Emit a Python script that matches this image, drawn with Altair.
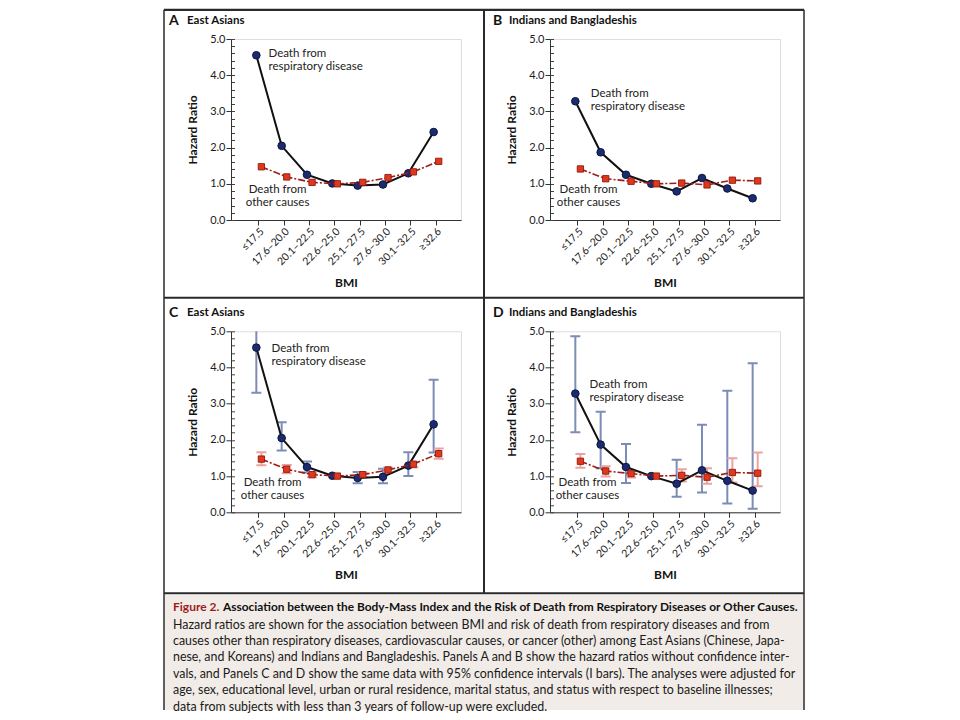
import altair as alt
import pandas as pd

# ---------------- data ----------------
bmi_labels = ["≤17.5", "17.6–20.0", "20.1–22.5", "22.6–25.0",
              "25.1–27.5", "27.6–30.0", "30.1–32.5", "≥32.6"]

# East Asians
ea_resp = [4.55, 2.05, 1.25, 1.01, 0.95, 0.98, 1.29, 2.43]
ea_other = [1.47, 1.19, 1.04, 1.00, 1.04, 1.17, 1.33, 1.62]
ea_resp_lo = [3.30, 1.71, 1.10, None, 0.80, 0.80, 1.00, 1.65]
ea_resp_hi = [5.80, 2.49, 1.40, None, 1.11, 1.20, 1.66, 3.66]
ea_other_lo = [1.30, 1.08, 0.97, None, 0.97, 1.10, 1.24, 1.48]
ea_other_hi = [1.66, 1.31, 1.08, None, 1.09, 1.23, 1.38, 1.76]

# Indians and Bangladeshis
ib_resp = [3.28, 1.87, 1.25, 1.00, 0.79, 1.16, 0.87, 0.60]
ib_other = [1.41, 1.14, 1.07, 1.00, 1.02, 0.97, 1.10, 1.08]
ib_resp_lo = [2.21, 1.22, 0.81, None, 0.43, 0.55, 0.24, 0.10]
ib_resp_hi = [4.86, 2.78, 1.89, None, 1.45, 2.42, 3.36, 4.12]
ib_other_lo = [1.23, 0.99, 0.96, None, 0.85, 0.79, 0.82, 0.72]
ib_other_hi = [1.61, 1.27, 1.12, None, 1.19, 1.22, 1.49, 1.65]

resp_label = "Death from\nrespiratory disease"
other_label = "Death from\nother causes"

caption_head = "Figure 2."
caption_title = ("Association between the Body-Mass Index and the Risk of Death "
                 "from Respiratory Diseases or Other Causes.")
caption_lines = [
    "Hazard ratios are shown for the association between BMI and risk of death from respiratory diseases and from",
    "causes other than respiratory diseases, cardiovascular causes, or cancer (other) among East Asians (Chinese, Japa-",
    "nese, and Koreans) and Indians and Bangladeshis. Panels A and B show the hazard ratios without confidence inter-",
    "vals, and Panels C and D show the same data with 95% confidence intervals (I bars). The analyses were adjusted for",
    "age, sex, educational level, urban or rural residence, marital status, and status with respect to baseline illnesses;",
    "data from subjects with less than 3 years of follow-up were excluded.",
]

# ---------------- styles ----------------
FONT = "Lato"
W, H = 230, 181
BLUE_OFF, RED_OFF = -0.08, 0.12
NAVY = "#1c2a6e"
LINE_DARK = "#111111"
RED = "#e0381c"
RED_DARK = "#9e1d17"
CI_BLUE = "#7b8db7"
CI_RED = "#eba3a0"
FRAME = "#2a2a2a"
CAPTION_BG = "#f1ece7"

label_expr = "[" + ",".join("'" + l + "'" for l in bmi_labels) + "][datum.value]"

X = alt.X(
    "xpos:Q",
    scale=alt.Scale(domain=[-1.08, 8.0], nice=False, zero=False),
    axis=alt.Axis(values=list(range(8)), labelExpr=label_expr, labelAngle=-45,
                  title="BMI", grid=False, tickSize=5, tickColor="#333",
                  domainColor="#333", labelFontSize=10.5, labelPadding=1,
                  labelColor="#1a1a1a", labelFont=FONT, titleFont=FONT,
                  titleFontSize=12, titleFontWeight="bold", titleColor="#111",
                  titlePadding=10, labelOverlap=False, labelBound=False),
)
YSCALE = alt.Scale(domain=[0, 5], nice=False, zero=True)


def y_none(field):
    return alt.Y(field + ":Q", scale=YSCALE, axis=None)


def y_main(field):
    return alt.Y(field + ":Q", scale=YSCALE,
                 axis=alt.Axis(values=[0, 1, 2, 3, 4, 5], format=".1f", grid=False,
                               tickSize=5, tickColor="#333", domainColor="#333",
                               labelFontSize=11, labelFont=FONT, labelColor="#1a1a1a",
                               labelPadding=1, title="Hazard Ratio", titleFont=FONT,
                               titleFontSize=12, titleFontWeight="bold",
                               titleColor="#111", titlePadding=10))


def y_minor(field):
    return alt.Y(field + ":Q", scale=YSCALE,
                 axis=alt.Axis(orient="right", offset=-W,
                               values=[i / 5 for i in range(26)], labels=False,
                               domain=False, grid=False, tickSize=3.5,
                               tickColor="#444", title=None))


ONE = pd.DataFrame({"a": [0]})


def vtext(txt, x, y, size, weight="normal", color="#111", align="left",
          baseline="middle", line_height=None):
    kw = dict(align=align, baseline=baseline, font=FONT, fontSize=size,
              fontWeight=weight, color=color)
    if line_height is not None:
        kw["lineBreak"] = "\n"
        kw["lineHeight"] = line_height
    return alt.Chart(ONE).mark_text(**kw).encode(
        x=alt.value(x), y=alt.value(y), text=alt.value(txt))


def vrule(x, x2, y, y2, width, color=FRAME):
    return alt.Chart(ONE).mark_rule(color=color, strokeWidth=width).encode(
        x=alt.value(x), x2=alt.value(x2), y=alt.value(y), y2=alt.value(y2))


def panel(letter, name, resp, other, ci, ann, letter_x, name_x, title_y, decor=False):
    layers = []
    if decor:
        layers.append(alt.Chart(ONE).mark_rect(color=CAPTION_BG).encode(
            x=alt.value(-66), x2=alt.value(572), y=alt.value(556), y2=alt.value(671)))
        layers += [
            vrule(-67, 573, -29.2, -29.2, 2.2),      # top frame
            vrule(-67, -67, -29.2, 671, 1.5),        # left frame
            vrule(573, 573, -29.2, 671, 1.5),        # right frame
            vrule(253, 253, -29.2, 554.3, 2),        # middle vertical divider
            vrule(-67, 573, 258.8, 258.8, 2),        # row divider
            vrule(-67, 573, 554.3, 554.3, 2),        # caption divider
        ]
        layers.append(vtext(caption_head, -58, 571.8, 12, "bold", "#9b1c1f",
                            baseline="alphabetic"))
        layers.append(vtext(caption_title, -8, 571.8, 11.9, "bold", "#111",
                            baseline="alphabetic"))
        layers.append(vtext("\n".join(caption_lines), -58, 589.5, 12.4, "normal",
                            "#1a1a1a", baseline="alphabetic", line_height=16.4))

    if ci is not None:
        r_lo, r_hi, o_lo, o_hi = ci
        for lo, hi, off, col in [(r_lo, r_hi, BLUE_OFF, CI_BLUE),
                                 (o_lo, o_hi, RED_OFF, CI_RED)]:
            d = pd.DataFrame({"idx": list(range(8)), "lo": lo, "hi": hi}).dropna()
            base = alt.Chart(d).transform_calculate(xpos="datum.idx + " + str(off))
            layers.append(base.mark_rule(color=col, strokeWidth=2, clip=True)
                          .encode(x=X, y=y_none("lo"), y2="hi:Q"))
            for f in ("lo", "hi"):
                layers.append(base.mark_tick(orient="horizontal", size=10,
                                             thickness=2, color=col, clip=True,
                                             opacity=1)
                              .encode(x=X, y=y_none(f)))

    rd = pd.DataFrame({"idx": list(range(8)), "hr": resp})
    od = pd.DataFrame({"idx": list(range(8)), "hr": other})
    rb = alt.Chart(rd).transform_calculate(xpos="datum.idx + " + str(BLUE_OFF))
    ob = alt.Chart(od).transform_calculate(xpos="datum.idx + " + str(RED_OFF))
    layers += [
        rb.mark_line(color=LINE_DARK, strokeWidth=2).encode(x=X, y=y_minor("hr")),
        rb.mark_point(shape="circle", filled=True, size=58, fill=NAVY,
                      stroke="#0c1540", strokeWidth=1, opacity=1)
          .encode(x=X, y=y_main("hr")),
        ob.mark_line(color=RED_DARK, strokeWidth=1.6, strokeDash=[7, 2, 2, 2])
          .encode(x=X, y=y_none("hr")),
        ob.mark_square(size=40, fill=RED, stroke="#8e1a10", strokeWidth=0.9,
                       opacity=1)
          .encode(x=X, y=y_none("hr")),
    ]

    (rx, ry), (ox, oy) = ann
    ta = pd.DataFrame({"xpos": [rx], "hr": [ry], "t": [resp_label]})
    tb = pd.DataFrame({"xpos": [ox], "hr": [oy], "t": [other_label]})
    layers.append(alt.Chart(ta).mark_text(align="left", baseline="middle",
                                          lineBreak="\n", lineHeight=13,
                                          font=FONT, fontSize=11.5, color="#222")
                  .encode(x=X, y=y_none("hr"), text="t:N"))
    layers.append(alt.Chart(tb).mark_text(align="center", baseline="middle",
                                          lineBreak="\n", lineHeight=13,
                                          font=FONT, fontSize=11.5, color="#222")
                  .encode(x=X, y=y_none("hr"), text="t:N"))

    layers.append(vtext(letter, letter_x, title_y, 14, "bold", "#111"))
    layers.append(vtext(name, name_x, title_y, 11.5, "bold", "#111"))

    return alt.layer(*layers).resolve_axis(y="independent").properties(width=W, height=H)


pA = panel("A", "East Asians", ea_resp, ea_other, None,
           ((0.40, 4.59), (0.76, 0.83)), -62, -44, -17.7, decor=True)
pB = panel("B", "Indians and Bangladeshis", ib_resp, ib_other, None,
           ((0.53, 3.48), (0.44, 0.83)), -57, -41, -17.7)
pC = panel("C", "East Asians", ea_resp, ea_other,
           (ea_resp_lo, ea_resp_hi, ea_other_lo, ea_other_hi),
           ((0.52, 4.51), (0.56, 0.81)), -62, -44, -18.3)
pD = panel("D", "Indians and Bangladeshis", ib_resp, ib_other,
           (ib_resp_lo, ib_resp_hi, ib_other_lo, ib_other_hi),
           ((0.48, 3.51), (0.40, 0.81)), -57, -41, -18.3)

chart = alt.concat(
    pA, pB, pC, pD, columns=2,
    spacing=alt.RowColnumber(row=111.3, column=89),
    bounds="flush",
).properties(
    padding={"left": 154, "top": 0, "right": 0, "bottom": 0},
    background="white",
).configure_view(stroke=None).configure(font=FONT)

chart.save("out.html", embed_options={"renderer": "svg", "actions": False})
